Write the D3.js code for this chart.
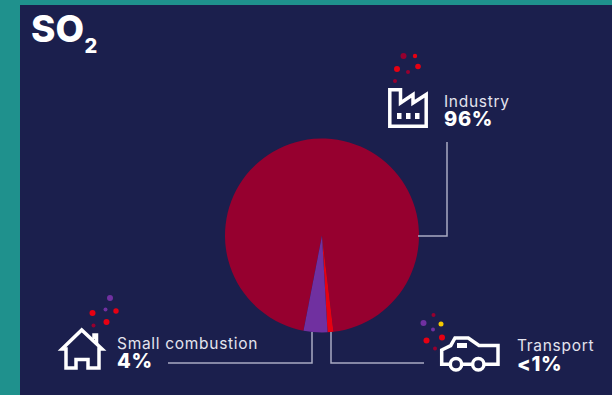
<!DOCTYPE html>
<html>
<head>
<meta charset="utf-8">
<script src="https://cdnjs.cloudflare.com/ajax/libs/d3/7.8.5/d3.min.js"></script>
<style>
html,body{margin:0;padding:0;background:#1f918d;}
svg{display:block;}
text{font-family:"Inter",sans-serif;fill:#fff;}
.name{font-weight:400;fill:#e4e4ee;letter-spacing:.7px;}
.pct{font-weight:800;letter-spacing:.7px;}
</style>
</head>
<body>
<svg id="chart" width="612" height="395"></svg>
<script>
// Emission shares by source sector
const sectors = ["Industry", "Transport", "Small combustion"];
const shares = [96, 1, 4];
const shareLabels = ["96%", "<1%", "4%"];
const sectorColors = ["#96002f", "#e60012", "#7030a0"];

const W = 612, H = 395;
const cx = 322, cy = 235.5, radius = 97;
const svg = d3.select("#chart");

svg.append("rect").attr("width", W).attr("height", H).attr("fill", "#1f918d");
svg.append("rect").attr("x", 20).attr("y", 5).attr("width", W - 20).attr("height", H - 5).attr("fill", "#1b1f4d");

// Title with subscript
svg.append("text").attr("x", 31).attr("y", 42).attr("font-size", 37).attr("font-weight", 800).text("SO");
svg.append("text").attr("x", 84.5).attr("y", 53).attr("font-size", 20).attr("font-weight", 800).text("2");

// Pie, rotated so the two small slices sit at the bottom
const startDeg = 191;
const pie = d3.pie().sort(null)
  .startAngle(startDeg * Math.PI / 180)
  .endAngle((startDeg + 360) * Math.PI / 180);
const arc = d3.arc().innerRadius(0).outerRadius(radius);
svg.append("g").attr("transform", `translate(${cx},${cy})`)
  .selectAll("path").data(pie(shares)).join("path")
  .attr("d", arc).attr("fill", (d, i) => sectorColors[i]);

// Leader lines from each slice to its label
const leaders = [
  "M447,142V236H418",
  "M331,332V363H424",
  "M168,363H312V332"
];
svg.append("g").selectAll("path").data(leaders).join("path")
  .attr("d", d => d).attr("fill", "none").attr("stroke", "#a9aac2").attr("stroke-width", 1.5);

// Sector labels
const labelPos = [
  { x: 444, y: 107, py: 126 },
  { x: 517, y: 351, py: 371 },
  { x: 117, y: 349, py: 368 }
];
const labels = svg.append("g").selectAll("g").data(sectors).join("g");
labels.append("text").attr("class", "name").attr("font-size", 15.5)
  .attr("x", (d, i) => labelPos[i].x).attr("y", (d, i) => labelPos[i].y).text(d => d);
labels.append("text").attr("class", "pct").attr("font-size", 20)
  .attr("x", (d, i) => labelPos[i].x).attr("y", (d, i) => labelPos[i].py).text((d, i) => shareLabels[i]);

// Pollutant particles above each icon
const D = "#96002f", R = "#e60012", P = "#7030a0", Y = "#f5c800";
const particles = [
  [403.5,56,3,D],[415,56,2.2,R],[397,69,3,R],[418,66.5,2.8,R],[408,72,2,D],[395,81,2,D],
  [110,298,3,P],[105.5,309.5,2,P],[92.5,313,3,R],[116,311,2.7,R],[106.5,322,3,R],[93.5,325.5,2,D],
  [433.5,315,2,D],[423.5,323,3,P],[441,324,2.5,Y],[433,329.5,2,P],[426.5,340.5,3,R],[442,337.5,3,R],[435,348.5,2,D]
];
svg.append("g").selectAll("circle").data(particles).join("circle")
  .attr("cx", d => d[0]).attr("cy", d => d[1]).attr("r", d => d[2]).attr("fill", d => d[3]);

// Icons
const icons = svg.append("g").attr("fill", "none").attr("stroke", "#fff").attr("stroke-width", 3.5);
// factory
icons.append("path").attr("d", "M389.8,89.8H400.5V103L413,94.5V103L426.2,94.5V126.2H389.8Z");
icons.append("g").attr("fill", "#fff").attr("stroke", "none").selectAll("rect")
  .data([397, 406, 415]).join("rect")
  .attr("x", d => d).attr("y", 113).attr("width", 4.5).attr("height", 6);
// house
icons.append("path").attr("stroke-linejoin", "miter")
  .attr("d", "M62,349L81.7,330L102,349H99V368H88V359.5H76V368H66V349Z");
icons.append("path").attr("d", "M94,339V335H96.5V344");
// car
icons.append("path").attr("d", "M450,364.3H441.7V350L450.7,345.7L455,338H468.3L479,345.5H498V364.3H484M472.5,364.3H462");
icons.append("circle").attr("cx", 456).attr("cy", 364.3).attr("r", 5.7);
icons.append("circle").attr("cx", 478.3).attr("cy", 364.3).attr("r", 5.7);
icons.append("rect").attr("x", 457).attr("y", 343).attr("width", 10).attr("height", 5).attr("fill", "#fff").attr("stroke", "none");
</script>
</body>
</html>
